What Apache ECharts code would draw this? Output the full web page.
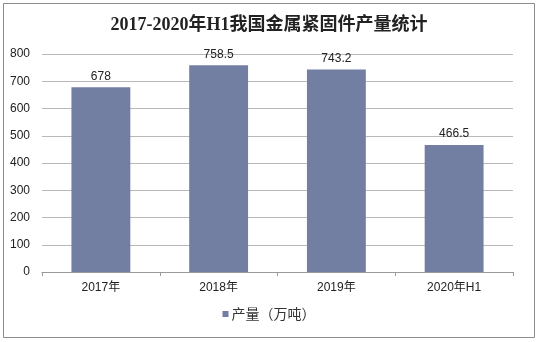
<!DOCTYPE html>
<html><head><meta charset="utf-8">
<script src="https://cdn.jsdelivr.net/npm/echarts@6/dist/echarts.min.js"></script>
<style>html,body{margin:0;padding:0;background:#fff}#c{width:538px;height:342px;box-sizing:border-box}</style>
</head><body><div id="c"></div>
<script>
const categories = ['2017年', '2018年', '2019年', '2020年H1'];
const values = [678, 758.5, 743.2, 466.5];
const yTicks = [0, 100, 200, 300, 400, 500, 600, 700, 800];
const seriesName = '产量（万吨）';
const titleText = '2017-2020年H1我国金属紧固件产量统计';

const chart = echarts.init(document.getElementById('c'), null, {renderer: 'canvas'});
chart.setOption({
  backgroundColor: '#fff',
  animation: false,
  graphic: [{type: 'rect', shape: {x: 3.5, y: 3.5, width: 531, height: 334}, style: {fill: 'none', stroke: '#8c8c8c', lineWidth: 1}, z: -1}],
  title: {text: titleText, left: 'center', top: 11,
    textStyle: {fontFamily: '"Liberation Serif","Noto Sans CJK SC",serif', fontSize: 18, fontWeight: 'bold', color: '#222'}},
  grid: {left: 42, right: 25, top: 54, bottom: 70},
  legend: {bottom: 16, left: 'center', itemWidth: 6, itemHeight: 6, icon: 'rect', itemGap: 4,
    textStyle: {fontFamily: '"Noto Sans CJK SC",sans-serif', fontSize: 14, color: '#333', padding: [0, 0, 0, -2]},
    data: [seriesName]},
  xAxis: {type: 'category', data: categories,
    axisLine: {lineStyle: {color: '#999'}},
    axisTick: {show: true, length: 4, lineStyle: {color: '#999'}},
    axisLabel: {fontFamily: '"Liberation Sans","Noto Sans CJK SC",sans-serif', fontSize: 12, color: '#222', margin: 10}},
  yAxis: {type: 'value', min: yTicks[0], max: yTicks[yTicks.length - 1], interval: 100,
    axisLine: {show: false}, axisTick: {show: false},
    splitLine: {lineStyle: {color: '#b8b8b8'}},
    axisLabel: {fontFamily: '"Liberation Sans",sans-serif', fontSize: 12, color: '#222', margin: 12}},
  series: [{name: seriesName, type: 'bar', data: values, barWidth: '50%',
    itemStyle: {color: '#737ea3'},
    label: {show: true, position: 'top', distance: 5, fontFamily: '"Liberation Sans",sans-serif', fontSize: 12, color: '#222'}}]
});
</script></body></html>
